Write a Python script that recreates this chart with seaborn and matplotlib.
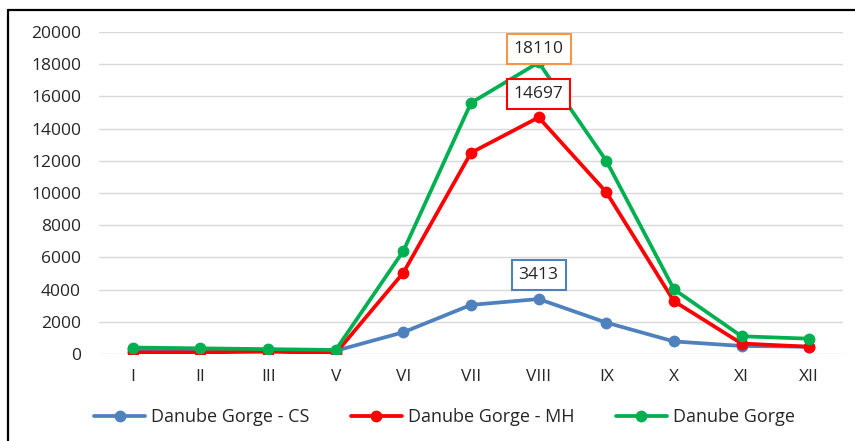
import matplotlib
matplotlib.use("Agg")
import matplotlib.pyplot as plt
import seaborn as sns
import pandas as pd
from matplotlib.lines import Line2D

months = ['I', 'II', 'III', 'V', 'VI', 'VII', 'VIII', 'IX', 'X', 'XI', 'XII']
cs = [300, 250, 200, 200, 1350, 3050, 3413, 1950, 780, 500, 450]
mh = [100, 100, 150, 50, 5050, 12500, 14697, 10050, 3280, 650, 450]
total = [400, 350, 300, 250, 6400, 15600, 18110, 12000, 4020, 1100, 950]

names = ['Danube Gorge - CS', 'Danube Gorge - MH', 'Danube Gorge']
colors = ['#4F81BD', '#FF0000', '#00B050']

sns.set_theme(style='white')
plt.rcParams['font.family'] = ['Open Sans', 'DejaVu Sans']

fig = plt.figure(figsize=(8.55, 4.41), dpi=100)
ax = fig.add_axes([0.1158, 0.1973, 0.8702, 0.7301])

for vals, name, col in zip([cs, mh, total], names, colors):
    df = pd.DataFrame({'month': months, 'value': vals})
    sns.lineplot(data=df, x='month', y='value', ax=ax, color=col, linewidth=2.7,
                 marker='o', markersize=8.5, markeredgewidth=0, sort=False)

ax.set_ylim(0, 20000)
ax.set_xlim(-0.5, len(months) - 0.5)
ax.set_yticks(range(0, 20001, 2000))
ax.yaxis.grid(True, color='#D9D9D9', linewidth=1)
ax.set_axisbelow(True)
for s in ax.spines.values():
    s.set_visible(False)
ax.set_xlabel('')
ax.set_ylabel('')
ax.tick_params(axis='both', length=0, labelsize=12.5, colors='#262626')
ax.tick_params(axis='x', pad=11)
ax.tick_params(axis='y', pad=13)

# peak labels
peak = months.index('VIII')
for val, ec, dy in [(18110, '#F79646', 9.5), (14697, '#FF0000', 17), (3413, '#4F81BD', 17.5)]:
    ax.annotate(str(val), xy=(peak, val), xytext=(0, dy), textcoords='offset points',
                ha='center', va='center', fontsize=12.5, color='#262626',
                bbox=dict(boxstyle='square,pad=0.4', fc='white', ec=ec, lw=1.5))

handles = [Line2D([0], [0], color=c, lw=2.7, marker='o', markersize=8.5, markeredgewidth=0)
           for c in colors]
fig.legend(handles, names, loc='center', bbox_to_anchor=(0.52, 0.054), ncol=3,
           frameon=False, fontsize=13, handlelength=2.8, columnspacing=2.3,
           handletextpad=0.35, labelcolor='#262626')

# outer border (left and top visible)
fig.add_artist(Line2D([8 / 855, 8 / 855], [0, 1 - 10 / 441], transform=fig.transFigure,
                      color='black', lw=1.6))
fig.add_artist(Line2D([8 / 855, 1], [1 - 10 / 441, 1 - 10 / 441], transform=fig.transFigure,
                      color='black', lw=1.6))

fig.savefig('out.png', dpi=100)
